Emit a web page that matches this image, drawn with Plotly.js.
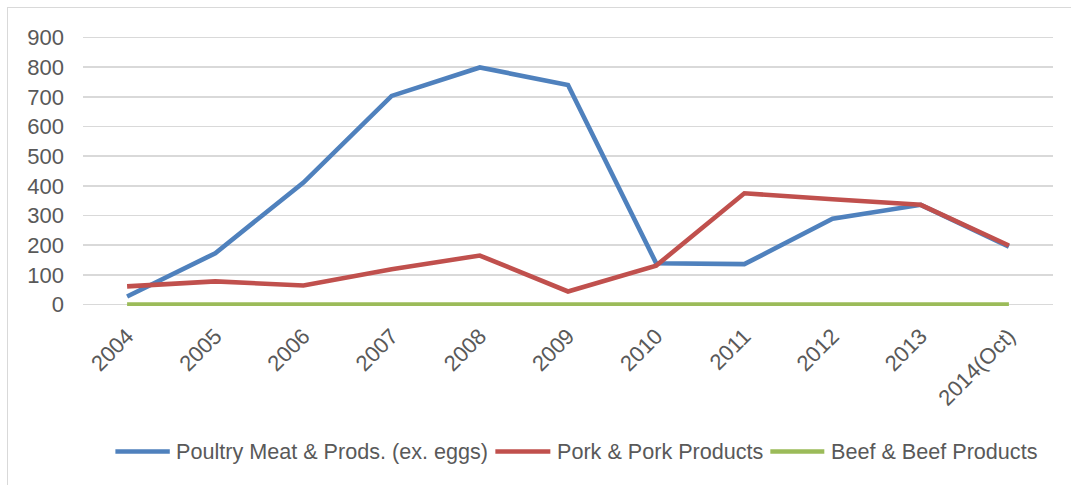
<!DOCTYPE html>
<html>
<head>
<meta charset="utf-8">
<script src="https://cdn.plot.ly/plotly-3.0.1.min.js"></script>
<style>
html,body{margin:0;padding:0;background:#fff;}
#wrap{position:relative;width:1071px;height:485px;overflow:hidden;background:#fff;}
#frame{position:absolute;left:7px;top:7px;width:1120px;height:520px;border:1.5px solid #d9d9d9;box-sizing:border-box;}
#chart{position:absolute;left:0;top:0;width:1071px;height:485px;}
</style>
</head>
<body>
<div id="wrap"><div id="frame"></div><div id="chart"></div></div>
<script>
const categories = ["2004","2005","2006","2007","2008","2009","2010","2011","2012","2013","2014(Oct)"];
const poultry = [27, 173, 411, 703, 799, 740, 139, 136, 289, 336, 195];
const pork = [61, 78, 64, 119, 165, 44, 131, 375, 355, 336, 199];
const beef = [0, 0, 0, 0, 0, 0, 0, 0, 0, 0, 0];
const seriesNames = ["Poultry Meat & Prods. (ex. eggs)", "Pork & Pork Products", "Beef & Beef Products"];
const seriesColors = ['#4f81bd', '#c0504d', '#9bbb59'];
const yTicks = [0, 100, 200, 300, 400, 500, 600, 700, 800, 900];

const font = "Liberation Sans, Arial, sans-serif";
const W = 1071, H = 485;
const mL = 82.6, mR = 18.3, mT = 36.2, mB = 178.8;
const pw = W - mL - mR, ph = H - mT - mB;
function px2x(p) { return (p - mL) / pw; }
function py2y(p) { return (H - mB - p) / ph; }

const data = [poultry, pork, beef].map((y, i) => ({
  x: categories, y: y, name: seriesNames[i], type: 'scatter', mode: 'lines',
  line: {color: seriesColors[i], width: 4.6}, hoverinfo: 'skip', showlegend: false
}));

// custom legend (symbol length matches the reference)
const legY = py2y(451.7);
const legLines = [[115, 169.4], [495, 550], [770, 824]];
const legText = [174, 555, 829];
const shapes = legLines.map((l, i) => ({
  type: 'line', xref: 'paper', yref: 'paper', x0: px2x(l[0]), x1: px2x(l[1]), y0: legY, y1: legY,
  line: {color: seriesColors[i], width: 4.6}
}));
const annotations = seriesNames.map((n, i) => ({
  text: n, xref: 'paper', yref: 'paper', x: px2x(legText[i]), y: legY,
  xanchor: 'left', yanchor: 'middle', showarrow: false,
  font: {family: font, size: 21.6, color: '#595959'}
}));

const layout = {
  width: W, height: H,
  margin: {l: mL, r: mR, t: mT, b: mB, pad: 0},
  paper_bgcolor: 'rgba(0,0,0,0)', plot_bgcolor: 'rgba(0,0,0,0)',
  font: {family: font, size: 22, color: '#595959'},
  xaxis: {type: 'category', range: [-0.5, 10.5], showgrid: false, zeroline: false,
    showline: false, ticks: '', tickangle: -45, ticklabelstandoff: 12,
    tickfont: {size: 22, color: '#595959'}, fixedrange: true},
  yaxis: {range: [-5, 905], tickvals: yTicks, ticktext: yTicks.map(String), showgrid: true,
    gridcolor: '#d9d9d9', gridwidth: 1.5, zeroline: false, showline: false, ticks: '',
    ticklabelstandoff: 18, tickfont: {size: 22, color: '#595959'}, fixedrange: true},
  showlegend: false,
  shapes: shapes,
  annotations: annotations
};
Plotly.newPlot('chart', data, layout, {staticPlot: true, displayModeBar: false});
</script>
</body>
</html>
